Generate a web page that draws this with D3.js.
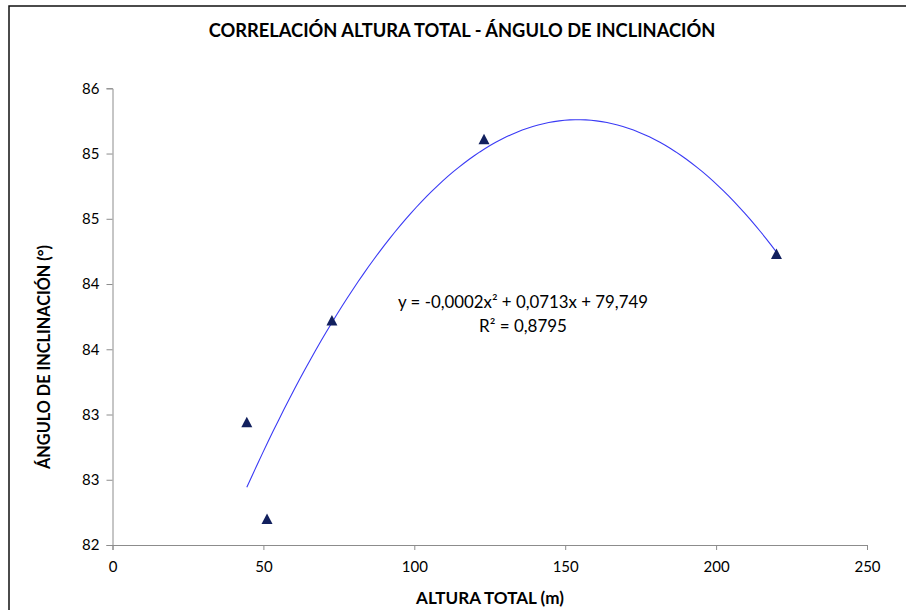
<!DOCTYPE html>
<html lang="es">
	<head>
		<meta charset="utf-8">
		<title>Correlación altura total - ángulo de inclinación</title>
		<script type="text/javascript" src="https://cdn.jsdelivr.net/npm/d3@7"></script>
		<style type="text/css">
			body { margin: 0; background: #fff; }
			text { font-family: Lato, "Open Sans", sans-serif; fill: #000; }
		</style>
	</head>
	<body>
		<script type="text/javascript">

			//Width and height
			var w = 906;
			var h = 610;

			// data
			var altura = [44.5, 51.2, 72.7, 123.1, 220.0];
			var angulo = [82.94, 82.20, 83.72, 85.11, 84.23];
			var xTicks = [0, 50, 100, 150, 200, 250];
			var yTicks = [82, 82.5, 83, 83.5, 84, 84.5, 85, 85.5];
			var eqText = "y = -0,0002x\u00b2 + 0,0713x + 79,749";
			var r2Text = "R\u00b2 = 0,8795";

			var x = d3.scaleLinear().domain([0, 250]).range([112.5, 867]);
			var y = d3.scaleLinear().domain([82, 85.5]).range([545, 88.3]);

			var svg = d3.select("body")
						.append("svg")
						.attr("width", w)
						.attr("height", h);

			// chart border
			svg.append("rect")
			   .attr("x", 9).attr("y", 6)
			   .attr("width", 910).attr("height", 620)
			   .attr("fill", "none")
			   .attr("stroke", "#111")
			   .attr("stroke-width", 1.5);

			// axes
			var xAxis = d3.axisBottom(x).tickValues(xTicks).tickSize(5).tickPadding(8);
			var yAxis = d3.axisLeft(y).tickValues(yTicks).tickSize(6).tickPadding(7)
						  .tickFormat(function(d) { return Math.round(d + 1e-9); });

			var gx = svg.append("g").attr("transform", "translate(0,545)").call(xAxis);
			var gy = svg.append("g").attr("transform", "translate(112.5,0)").call(yAxis);
			[gx, gy].forEach(function(g) {
				g.select(".domain").attr("stroke", "#8c8c8c");
				g.selectAll(".tick line").attr("stroke", "#8c8c8c");
				g.selectAll(".tick text")
				 .style("font-family", "Lato, sans-serif")
				 .style("font-size", "15px")
				 .attr("fill", "#000");
			});
			gx.selectAll(".tick text").attr("dy", "0.95em");

			// least squares quadratic trendline (same as the spreadsheet's fit)
			function fitQuad(xs, ys) {
				var n = xs.length, s = [0,0,0,0,0], t = [0,0,0];
				for (var i = 0; i < n; i++) {
					var p = 1;
					for (var k = 0; k < 5; k++) { s[k] += p; if (k < 3) t[k] += p * ys[i]; p *= xs[i]; }
				}
				var A = [[s[0], s[1], s[2], t[0]], [s[1], s[2], s[3], t[1]], [s[2], s[3], s[4], t[2]]];
				for (var c = 0; c < 3; c++) {
					for (var r = c + 1; r < 3; r++) {
						var f = A[r][c] / A[c][c];
						for (var j = c; j < 4; j++) A[r][j] -= f * A[c][j];
					}
				}
				var b = [0,0,0];
				for (var r2 = 2; r2 >= 0; r2--) {
					var v = A[r2][3];
					for (var j2 = r2 + 1; j2 < 3; j2++) v -= A[r2][j2] * b[j2];
					b[r2] = v / A[r2][r2];
				}
				return b; // c0 + c1 x + c2 x^2
			}
			var coef = fitQuad(altura, angulo);
			var xMin = d3.min(altura), xMax = d3.max(altura);
			var curve = d3.range(0, 101).map(function(i) {
				var xv = xMin + (xMax - xMin) * i / 100;
				return [xv, coef[0] + coef[1] * xv + coef[2] * xv * xv];
			});
			svg.append("path")
			   .datum(curve)
			   .attr("d", d3.line().x(function(d) { return x(d[0]); }).y(function(d) { return y(d[1]); }))
			   .attr("fill", "none")
			   .attr("stroke", "#3a3af5")
			   .attr("stroke-width", 1.1);

			// markers
			svg.selectAll("path.pt")
			   .data(altura)
			   .enter()
			   .append("path")
			   .attr("class", "pt")
			   .attr("d", "M0,-5.5L5.5,5L-5.5,5Z")
			   .attr("transform", function(d, i) { return "translate(" + x(d) + "," + y(angulo[i]) + ")"; })
			   .attr("fill", "#12205e");

			// texts
			function fitText(t, width) {
				var len = t.node().getComputedTextLength();
				var fs = parseFloat(t.style("font-size"));
				t.style("font-size", (fs * width / len) + "px");
			}

			var title = svg.append("text")
			   .attr("x", 462).attr("y", 37)
			   .attr("text-anchor", "middle")
			   .style("font-weight", "bold").style("font-size", "17px")
			   .text("CORRELACIÓN ALTURA TOTAL - ÁNGULO DE INCLINACIÓN");
			fitText(title, 507);

			var xl = svg.append("text")
			   .attr("x", 490).attr("y", 604)
			   .attr("text-anchor", "middle")
			   .style("font-weight", "bold").style("font-size", "15px")
			   .text("ALTURA TOTAL (m)");
			fitText(xl, 148);

			var yl = svg.append("text")
			   .attr("transform", "translate(50,357) rotate(-90)")
			   .attr("text-anchor", "middle")
			   .style("font-weight", "bold").style("font-size", "15px")
			   .text("ÁNGULO DE INCLINACIÓN (°)");
			fitText(yl, 224);

			var eq = svg.append("text")
			   .attr("x", 523).attr("y", 308)
			   .attr("text-anchor", "middle")
			   .style("font-size", "15px")
			   .text(eqText);
			fitText(eq, 250);

			var rr = svg.append("text")
			   .attr("x", 523).attr("y", 332)
			   .attr("text-anchor", "middle")
			   .style("font-size", "15px")
			   .text(r2Text);
			fitText(rr, 88);

		</script>
	</body>
</html>
